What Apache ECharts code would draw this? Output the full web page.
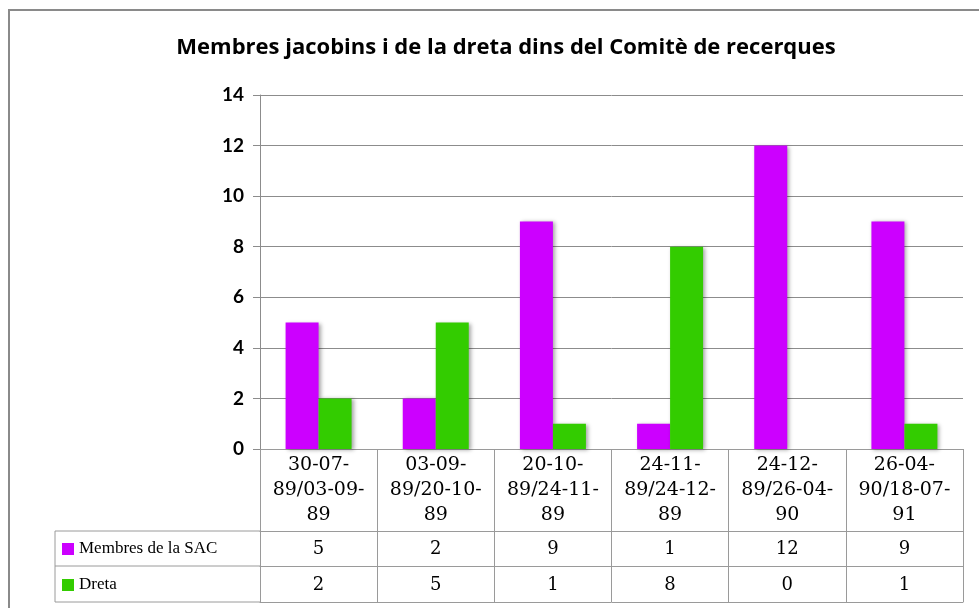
<!DOCTYPE html>
<html>
<head>
<meta charset="utf-8">
<script src="https://cdn.jsdelivr.net/npm/echarts@6/dist/echarts.min.js"></script>
<style>
  html, body { margin: 0; padding: 0; background: #fff; }
  #chart { width: 979px; height: 608px; }
</style>
</head>
<body>
<div id="chart"></div>
<script>
// dades llegides del gràfic
const periodes = [
  '30-07-\n89/03-09-\n89',
  '03-09-\n89/20-10-\n89',
  '20-10-\n89/24-11-\n89',
  '24-11-\n89/24-12-\n89',
  '24-12-\n89/26-04-\n90',
  '26-04-\n90/18-07-\n91'
]
const membresSAC = [5, 2, 9, 1, 12, 9]
const dreta = [2, 5, 1, 8, 0, 1]
const yTicks = [0, 2, 4, 6, 8, 10, 12, 14]

const colorSAC = '#cc00ff'
const colorDreta = '#33cc00'
const gridColor = '#8c8c8c'
const tableColor = '#9a9a9a'
const serif = 'DejaVu Serif'

const chart = echarts.init(document.getElementById('chart'))

const barShadow = {
    shadowBlur: 4,
    shadowColor: 'rgba(0,0,0,0.35)',
    shadowOffsetX: 2,
    shadowOffsetY: 1
}

// eixos extra per fer la taula de dades sota el gràfic
function tableAxis(offset, labels, margin) {
    return {
        type: 'category',
        position: 'bottom',
        offset: offset,
        data: labels,
        axisLine: { show: true, lineStyle: { color: tableColor, width: 1 } },
        axisTick: { show: false },
        axisLabel: {
            show: labels.length > 0,
            margin: margin,
            color: '#000',
            fontFamily: serif,
            fontSize: 18,
            lineHeight: 20
        },
        splitLine: { show: false }
    }
}

chart.setOption({
    animation: false,
    title: {
        text: 'Membres jacobins i de la dreta dins del Comitè de recerques',
        left: 501,
        textAlign: 'center',
        top: 32,
        textStyle: {
            fontFamily: 'Open Sans',
            fontWeight: 'bold',
            fontSize: 22,
            color: '#000'
        }
    },
    legend: {
        orient: 'vertical',
        left: 62,
        top: 539,
        padding: 0,
        itemWidth: 12,
        itemHeight: 12,
        itemGap: 16,
        icon: 'rect',
        textStyle: {
            fontFamily: 'Liberation Serif',
            fontSize: 17,
            lineHeight: 20,
            color: '#000'
        },
        data: ['Membres de la SAC', 'Dreta']
    },
    grid: {
        left: 260,
        right: 16,
        top: 95,
        bottom: 159
    },
    xAxis: [
        {
            type: 'category',
            data: periodes,
            axisLine: { show: true, lineStyle: { color: tableColor, width: 1 } },
            axisTick: {
                show: true,
                length: 153,
                lineStyle: { color: tableColor, width: 1 }
            },
            axisLabel: {
                margin: 4,
                color: '#000',
                fontFamily: serif,
                fontSize: 19,
                lineHeight: 25,
                interval: 0
            }
        },
        tableAxis(82, membresSAC.map(String), 8),
        tableAxis(117, dreta.map(String), 9),
        tableAxis(153, [], 0)
    ],
    yAxis: {
        type: 'value',
        min: yTicks[0],
        max: yTicks[yTicks.length - 1],
        interval: 2,
        axisLine: { show: true, lineStyle: { color: gridColor } },
        axisTick: { show: true, length: 7, lineStyle: { color: gridColor } },
        axisLabel: {
            margin: 16,
            color: '#000',
            fontFamily: 'Lato',
            fontWeight: 'bold',
            fontSize: 19
        },
        splitLine: { lineStyle: { color: gridColor, width: 1 } }
    },
    series: [
        {
            name: 'Membres de la SAC',
            type: 'bar',
            data: membresSAC,
            barWidth: 33,
            barGap: 0,
            itemStyle: Object.assign({ color: colorSAC }, barShadow)
        },
        {
            name: 'Dreta',
            type: 'bar',
            data: dreta,
            barWidth: 33,
            barGap: 0,
            itemStyle: Object.assign({ color: colorDreta }, barShadow)
        }
    ],
    graphic: [
        // marc exterior del gràfic
        {
            type: 'rect',
            shape: { x: 9, y: 10, width: 1000, height: 700 },
            style: { fill: 'none', stroke: '#8a8a8a', lineWidth: 2 },
            silent: true
        },
        // caixa de la llegenda a la taula
        {
            type: 'polyline',
            shape: { points: [[260, 531], [55, 531], [55, 602], [260, 602]] },
            style: { fill: 'none', stroke: tableColor, lineWidth: 1 },
            silent: true
        },
        {
            type: 'line',
            shape: { x1: 55, y1: 566, x2: 260, y2: 566 },
            style: { stroke: tableColor, lineWidth: 1 },
            silent: true
        }
    ]
})
</script>
</body>
</html>
